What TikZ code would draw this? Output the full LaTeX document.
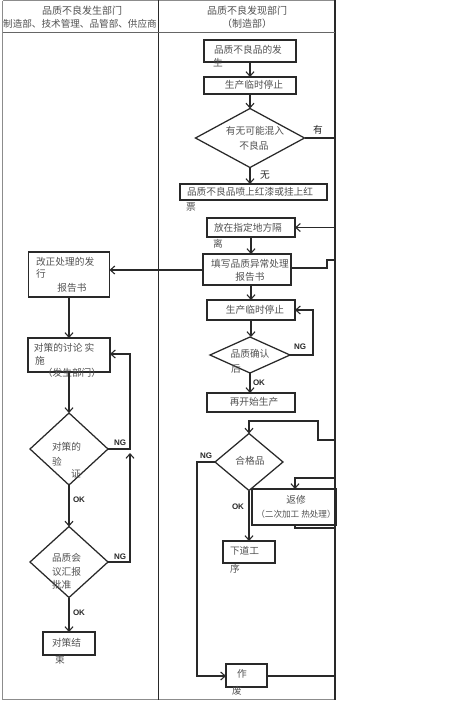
\documentclass[tikz,border=0pt]{standalone}
\usepackage{fontspec}
\newfontfamily\cjk{Noto Sans CJK SC}
\newfontfamily\lat{Liberation Sans}
\usetikzlibrary{arrows.meta,shapes.geometric}
\definecolor{lc}{gray}{0.16}
\definecolor{tc}{gray}{0.32}
\begin{document}
\begin{tikzpicture}[x=1pt,y=-1pt,
  every node/.style={inner sep=0pt,outer sep=0pt},
  box/.style={draw=lc,line width=1.25pt,rectangle},
  dia/.style={draw=lc,line width=1.25pt,diamond},
  txt/.style={font=\cjk\fontsize{9.7}{11}\selectfont,text=tc},
  hd/.style={font=\cjk\fontsize{10}{12}\selectfont,text=tc},
  lab/.style={font=\lat\bfseries\fontsize{8}{9}\selectfont,text=lc},
  ln/.style={draw=lc,line width=1.2pt},
  arr/.style={draw=lc,line width=1.2pt,-{Straight Barb[length=4.5pt,width=8pt,line width=1.1pt]}}]
\useasboundingbox (0,0) rectangle (465,702);
\fill[white] (0,0) rectangle (465,702);
% table
\draw[black!45,line width=1pt] (2.5,0.5) -- (335,0.5);
\draw[black!45,line width=1pt] (2.5,0.5) -- (2.5,699.5) -- (335,699.5);
\draw[lc,line width=1.3pt] (158.5,0) -- (158.5,700);
\draw[lc,line width=1.3pt] (335,0) -- (335,700);
\draw[black!60,line width=1pt] (2.5,32) -- (335,32);
% header
\node[hd] (h1) at (82,11) {品质不良发生部门};
\node[hd,font=\cjk\fontsize{9.6}{11}\selectfont] (h2) at (80,24) {制造部、技术管理、品管部、供应商};
\node[hd] (h3) at (247,11) {品质不良发现部门};
\node[hd] (h4) at (247,24) {（制造部）};
% right column
\node[box,minimum width=92pt,minimum height=22pt] (b1) at (250,51) {};
\node[txt,anchor=west] (t1a) at (214,50) {品质不良品的发};
\node[txt,anchor=west] (t1b) at (213,63) {生};
\node[box,minimum width=92pt,minimum height=17pt] (b2) at (250,85.5) {};
\node[txt] (t2) at (254,85) {生产临时停止};
\node[dia,minimum width=109pt,minimum height=59pt] (d1) at (250,138) {};
\node[txt] (t3a) at (255,131) {有无可能混入};
\node[txt] (t3b) at (254,146) {不良品};
\node[box,minimum width=147pt,minimum height=16pt] (b4) at (253.5,192) {};
\node[txt,anchor=west] (t4a) at (187,192) {品质不良品喷上红漆或挂上红};
\node[txt,anchor=west] (t4b) at (186,207) {票};
\node[box,minimum width=88pt,minimum height=19pt] (b5) at (251,227.5) {};
\node[txt,anchor=west] (t5a) at (214,228) {放在指定地方隔};
\node[txt,anchor=west] (t5b) at (213,244) {离};
\node[box,minimum width=88pt,minimum height=31pt] (b6) at (247,269.5) {};
\node[txt] (t6a) at (250,264) {填写品质异常处理};
\node[txt] (t6b) at (250,277) {报告书};
\node[box,minimum width=88pt,minimum height=20pt] (b7) at (251,310) {};
\node[txt] (t7) at (255,310) {生产临时停止};
\node[dia,minimum width=80pt,minimum height=36pt] (d2) at (250,355) {};
\node[txt] (t8a) at (250,354) {品质确认};
\node[txt] (t8b) at (236,369) {后};
\node[box,minimum width=88pt,minimum height=19pt] (b8) at (251,402.5) {};
\node[txt] (t9) at (254,402) {再开始生产};
\node[dia,minimum width=68pt,minimum height=57pt] (d3) at (249,462) {};
\node[txt] (t10) at (250,461) {合格品};
\node[box,minimum width=84pt,minimum height=36pt] (b9) at (294,507) {};
\node[txt] (t11a) at (296,500) {返修};
\node[txt,font=\cjk\fontsize{8.6}{10}\selectfont] (t11b) at (296,514) {（二次加工 热处理）};
\node[box,minimum width=52pt,minimum height=22pt] (b10) at (249,552) {};
\node[txt,anchor=west] (t12a) at (230,551) {下道工};
\node[txt,anchor=west] (t12b) at (230,569) {序};
\node[box,minimum width=41pt,minimum height=23pt] (b11) at (246.5,675.5) {};
\node[txt] (t13a) at (242,674) {作};
\node[txt] (t13b) at (237,691) {废};
% left column
\node[box,minimum width=81pt,minimum height=45pt] (L1) at (69,274.5) {};
\node[txt,anchor=west] (u1a) at (36,262) {改正处理的发};
\node[txt,anchor=west] (u1b) at (36,274) {行};
\node[txt] (u1c) at (72,288) {报告书};
\node[box,minimum width=82pt,minimum height=34pt] (L2) at (69,355) {};
\node[txt,anchor=west] (u2a) at (34,348) {对策的讨论 实};
\node[txt,anchor=west] (u2b) at (35,361) {施};
\node[txt] (u2c) at (72,373) {（发生部门）};
\node[dia,minimum width=78pt,minimum height=72pt] (L3) at (69,449) {};
\node[txt,anchor=west] (u3a) at (52,447) {对策的};
\node[txt,anchor=west] (u3b) at (52,462) {验};
\node[txt,anchor=west] (u3c) at (71,474) {证};
\node[dia,minimum width=78pt,minimum height=71pt] (L4) at (69,562) {};
\node[txt,anchor=west] (u4a) at (52,558) {品质会};
\node[txt,anchor=west] (u4b) at (52,572) {议汇报};
\node[txt,anchor=west] (u4c) at (52,585) {批准};
\node[box,minimum width=52pt,minimum height=23pt] (L5) at (69,643.5) {};
\node[txt,anchor=west] (u5a) at (52,643) {对策结};
\node[txt,anchor=west] (u5b) at (55,660) {束};
% labels
\node[txt,text=lc] (l1) at (318,130) {有};
\node[txt,text=lc] (l2) at (265,175) {无};
\node[lab] (l3) at (300,347) {NG};
\node[lab] (l4) at (259,383) {OK};
\node[lab] (l5) at (206,456) {NG};
\node[lab] (l6) at (238,507) {OK};
\node[lab] (l7) at (120,443) {NG};
\node[lab] (l8) at (79,500) {OK};
\node[lab] (l9) at (120,557) {NG};
\node[lab] (l10) at (79,613) {OK};
% bus coordinates
\coordinate (c1) at (335,138);
\coordinate (c2) at (335,227.5);
\coordinate (c3) at (327,268);
\coordinate (c4) at (327,260);
\coordinate (c5) at (335,260);
\coordinate (c6) at (313,310);
\coordinate (c7) at (335,440);
\coordinate (c8) at (318,440);
\coordinate (c9) at (318,421);
\coordinate (c10) at (335,478);
\coordinate (c11) at (295,528);
\coordinate (c12) at (335,528);
\coordinate (c13) at (197,676);
\coordinate (c14) at (335,676);
\coordinate (c15) at (130,354);
\coordinate (c16) at (130,453);
% right connectors
\draw[arr] (b1.south) -- (b1.south |- b2.north);
\draw[arr] (b2.south) -- (b2.south |- d1.north);
\draw[arr] (d1.south) -- (d1.south |- b4.north);
\draw[ln] (d1.east) -- (c1);
\draw[arr] (c2) -- (b5.east);
\draw[arr] (b5.south) -- (b5.south |- b6.north);
\draw[ln] (b6.east |- c3) -- (c3) -- (c4) -- (c5);
\draw[arr] (b6.west |- 0,270) -- (L1.east |- 0,270);
\draw[arr] (b7.north |- b6.south) -- (b7.north);
\draw[arr] (b7.south) -- (b7.south |- d2.north);
\draw[arr] (d2.east) -| (c6) -- (b7.east);
\draw[arr] (d2.south) -- (d2.south |- b8.north);
\draw[arr] (c7) -- (c8) -- (c9) -| (d3.north);
\draw[arr] (d3.west) -| (c13) -- (b11.west |- c13);
\draw[arr] (d3.south) -- (d3.south |- b10.north);
\draw[arr] (c10) -| (b9.north -| c11);
\draw[ln] (c11 |- b9.south) -- (c11) -- (c12);
\draw[ln] (b11.east |- c14) -- (c14);
% left connectors
\draw[arr] (L1.south) -- (L1.south |- L2.north);
\draw[arr] (L2.south) -- (L2.south |- L3.north);
\draw[arr] (L3.south) -- (L3.south |- L4.north);
\draw[arr] (L4.south) -- (L4.south |- L5.north);
\draw[arr] (L3.east) -| (c15) -- (L2.east |- c15);
\draw[arr] (L4.east) -| (c16);
\end{tikzpicture}
\end{document}
